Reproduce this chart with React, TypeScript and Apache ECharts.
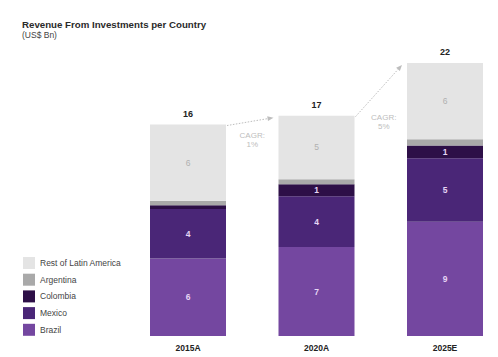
import React, { useEffect, useRef } from "react";
import * as echarts from "echarts";

const categories = ["2015A", "2020A", "2025E"];
const brazil = [6.1, 7.0, 9.0];
const mexico = [3.9, 4.0, 5.0];
const colombia = [0.3, 0.95, 1.0];
const argentina = [0.35, 0.4, 0.5];
const restOfLatAm = [6.0, 5.0, 6.0];
const totalLabels = ["16", "17", "22"];
const cagrLabels = ["CAGR:\n1%", "CAGR:\n5%"];

const FONT = "Liberation Sans, Arial, Helvetica, sans-serif";
const BAR_W = 76;

export default function App() {
  const ref = useRef<HTMLDivElement>(null);
  useEffect(() => {
    if (!ref.current) return;
    const chart = echarts.init(ref.current, null, { renderer: "svg" });
    const inside = (vals: number[], color: string, bold: boolean) =>
      vals.map((v) => ({
        value: v,
        label: {
          show: v >= 0.9,
          color,
          fontSize: 8.5,
          fontWeight: bold ? "bold" : "normal",
          fontFamily: FONT,
          formatter: () => String(Math.round(v)),
        },
      }));
    const mk = (name: string, data: any, color: string) => ({
      name,
      type: "bar",
      stack: "s",
      barWidth: BAR_W,
      clip: false,
      data,
      itemStyle: { color },
      label: { show: true, position: "inside" },
      emphasis: { disabled: true },
    });
    const totals = categories.map(
      (_, i) => brazil[i] + mexico[i] + colombia[i] + argentina[i] + restOfLatAm[i]
    );
    chart.setOption({
      animation: false,
      textStyle: { fontFamily: FONT },
      title: {
        left: 17,
        top: 14,
        text: "Revenue From Investments per Country",
        subtext: "(US$ Bn)",
        itemGap: 1,
        textStyle: { fontSize: 9.7, fontWeight: "bold", color: "#2a2a2a", fontFamily: FONT },
        subtextStyle: { fontSize: 8.5, color: "#444", fontFamily: FONT },
      },
      legend: {
        orient: "vertical",
        left: 18,
        top: 252,
        itemWidth: 12,
        itemHeight: 12,
        itemGap: 4.7,
        icon: "rect",
        data: ["Rest of Latin America", "Argentina", "Colombia", "Mexico", "Brazil"],
        textStyle: { fontSize: 8.5, color: "#444", fontFamily: FONT },
        selectedMode: false,
      },
      grid: { left: 188, right: 53, top: 31.2, bottom: 21, containLabel: false },
      xAxis: {
        type: "category",
        data: categories,
        boundaryGap: false,
        axisLine: { show: false },
        axisTick: { show: false },
        axisLabel: { fontSize: 8.5, fontWeight: "bold", color: "#222", margin: 7, fontFamily: FONT },
      },
      yAxis: { type: "value", min: 0, max: 24, show: false },
      series: [
        mk("Brazil", inside(brazil, "#e6d6f5", true), "#7447a0"),
        mk("Mexico", inside(mexico, "#e6d6f5", true), "#4a2677"),
        mk("Colombia", inside(colombia, "#e6d6f5", true), "#2d0f47"),
        mk("Argentina", inside(argentina, "#e6d6f5", true), "#a9a9a9"),
        mk("Rest of Latin America", inside(restOfLatAm, "#b0b0b0", false), "#e4e4e4"),
        {
          name: "Total",
          type: "bar",
          stack: "s",
          barWidth: BAR_W,
          clip: false,
          data: [0, 0, 0],
          itemStyle: { color: "transparent" },
          label: {
            show: true,
            position: "top",
            distance: 6,
            fontSize: 9,
            fontWeight: "bold",
            color: "#222",
            fontFamily: FONT,
            formatter: (p: any) => totalLabels[p.dataIndex],
          },
          emphasis: { disabled: true },
        },
      ],
    });

    const pts = categories.map((_, i) =>
      chart.convertToPixel({ gridIndex: 0 }, [i, totals[i]]) as number[]
    );
    const graphics: any[] = [];
    const textOffsets = [
      [0, 9],
      [3, 0],
    ];
    for (let i = 0; i < pts.length - 1; i++) {
      const x0 = pts[i][0] + BAR_W / 2 + 1;
      const y0 = pts[i][1] + 1;
      const x1 = pts[i + 1][0] - BAR_W / 2 - 5;
      const y1 = pts[i + 1][1] + 2;
      const ang = Math.atan2(y1 - y0, x1 - x0);
      const L = 6,
        W = 2.5;
      const bx = x1 - L * Math.cos(ang),
        by = y1 - L * Math.sin(ang);
      const nx = -Math.sin(ang),
        ny = Math.cos(ang);
      graphics.push({
        type: "line",
        shape: { x1: x0, y1: y0, x2: bx, y2: by },
        style: { stroke: "#bdbdbd", lineWidth: 1, lineDash: [1.5, 1.5] },
        silent: true,
      });
      graphics.push({
        type: "polygon",
        shape: {
          points: [
            [x1, y1],
            [bx + nx * W, by + ny * W],
            [bx - nx * W, by - ny * W],
          ],
        },
        style: { fill: "#bdbdbd" },
        silent: true,
      });
      graphics.push({
        type: "text",
        x: (pts[i][0] + pts[i + 1][0]) / 2 + textOffsets[i][0],
        y: y0 + textOffsets[i][1] - 4,
        style: {
          text: cagrLabels[i],
          fill: "#bdbdbd",
          font: `8px ${FONT}`,
          align: "center",
          verticalAlign: "top",
          lineHeight: 9.5,
        },
        silent: true,
      });
    }
    chart.setOption({ graphic: graphics });
    return () => chart.dispose();
  }, []);
  return (
    <div
      ref={ref}
      style={{ position: "absolute", left: 0, top: 0, width: 498, height: 357, background: "#fff" }}
    />
  );
}
